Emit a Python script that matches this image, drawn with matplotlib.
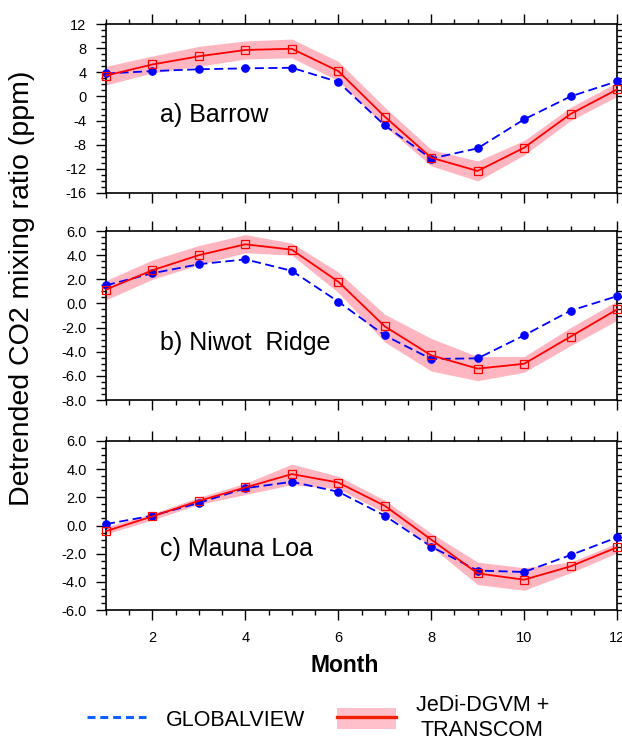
import matplotlib
matplotlib.use("Agg")
import matplotlib.pyplot as plt
from matplotlib.ticker import MultipleLocator, FixedLocator
from matplotlib.lines import Line2D
from matplotlib.patches import Patch
import numpy as np

plt.rcParams['font.family'] = ['Liberation Sans', 'DejaVu Sans']

months = list(range(1, 13))

# a) Barrow
barrow_obs = [3.8, 4.2, 4.5, 4.65, 4.75, 2.4, -4.8, -10.3, -8.6, -3.8, 0.0, 2.5]
barrow_mod = [3.45, 5.3, 6.65, 7.7, 7.9, 4.2, -3.35, -10.15, -12.35, -8.5, -2.9, 1.15]
barrow_up = [5.0, 6.7, 8.3, 9.2, 9.5, 5.8, -1.8, -8.8, -10.7, -7.3, -1.8, 2.3]
barrow_lo = [1.9, 3.9, 5.0, 6.2, 6.4, 2.6, -4.9, -11.5, -14.0, -9.7, -4.0, 0.0]

# b) Niwot Ridge
niwot_obs = [1.5, 2.5, 3.25, 3.65, 2.7, 0.15, -2.65, -4.6, -4.55, -2.65, -0.6, 0.6]
niwot_mod = [1.15, 2.75, 4.0, 4.9, 4.45, 1.8, -1.9, -4.3, -5.4, -5.0, -2.75, -0.5]
niwot_up = [1.9, 3.6, 4.8, 5.7, 5.0, 2.6, -0.9, -2.9, -4.4, -4.4, -2.0, 0.2]
niwot_lo = [0.3, 2.0, 3.2, 4.2, 4.0, 0.9, -3.2, -5.6, -6.4, -5.7, -3.5, -1.4]

# c) Mauna Loa
mlo_obs = [0.1, 0.7, 1.6, 2.65, 3.1, 2.4, 0.7, -1.5, -3.2, -3.3, -2.1, -0.85]
mlo_mod = [-0.4, 0.65, 1.75, 2.7, 3.65, 3.05, 1.4, -1.0, -3.4, -3.85, -2.9, -1.55]
mlo_up = [-0.1, 0.85, 2.0, 3.0, 4.35, 3.5, 1.8, -0.55, -2.6, -3.0, -2.6, -1.25]
mlo_lo = [-0.6, 0.4, 1.5, 2.2, 2.9, 2.6, 0.9, -1.5, -4.2, -4.6, -3.35, -1.95]

titles = ["a) Barrow", "b) Niwot  Ridge", "c) Mauna Loa"]
title_y = [0.46, 0.34, 0.36]
ylims = [(-16, 12), (-8, 6), (-6, 6)]
ymajor = [4, 2, 2]
yminor = [1, 0.5, 0.5]
yfmt = ["{:.0f}", "{:.1f}", "{:.1f}"]
obs_all = [barrow_obs, niwot_obs, mlo_obs]
mod_all = [barrow_mod, niwot_mod, mlo_mod]
up_all = [barrow_up, niwot_up, mlo_up]
lo_all = [barrow_lo, niwot_lo, mlo_lo]
xticks = [2, 4, 6, 8, 10, 12]

W, H = 622, 738
fig = plt.figure(figsize=(W / 100, H / 100), dpi=100)
left = 106 / W
width = 511 / W
tops = [24, 231, 441]
hgt = 169
band_color = '#ffb6c1'
obs_color = '#0000ff'
mod_color = '#ff0000'

for i in range(3):
    ax = fig.add_axes([left, 1 - (tops[i] + hgt) / H, width, hgt / H])
    ax.fill_between(months, lo_all[i], up_all[i], color=band_color, lw=0, zorder=1)
    ax.plot(months, obs_all[i], color=obs_color, ls=(0, (5, 2.5)), lw=1.3,
            marker='o', ms=5.2, mfc=obs_color, mec=obs_color, zorder=3, clip_on=False)
    ax.plot(months, mod_all[i], color=mod_color, ls='-', lw=1.3,
            marker='s', ms=5.5, mfc='none', mec=mod_color, mew=0.9, zorder=4, clip_on=False)
    ax.set_xlim(1, 12)
    ax.set_ylim(*ylims[i])
    ax.xaxis.set_major_locator(FixedLocator(xticks))
    ax.xaxis.set_minor_locator(MultipleLocator(0.5))
    ax.yaxis.set_minor_locator(MultipleLocator(yminor[i]))
    yt = np.arange(ylims[i][0], ylims[i][1] + 1e-9, ymajor[i])
    ax.set_yticks(yt)
    ax.set_yticklabels([yfmt[i].format(v + 0.0) for v in yt])
    ax.tick_params(which='both', direction='out', top=True, right=True,
                   labelsize=10.5, width=1.0)
    ax.tick_params(axis='y', pad=7)
    ax.tick_params(axis='x', pad=8)
    ax.tick_params(which='major', length=7)
    ax.tick_params(which='minor', length=3.5)
    for s in ax.spines.values():
        s.set_linewidth(1.2)
    if i < 2:
        ax.tick_params(labelbottom=False)
    else:
        ax.set_xticklabels([str(v) for v in xticks])
    ax.text(0.105, title_y[i], titles[i],
            transform=ax.transAxes, fontsize=18, ha='left', va='center')

fig.text(345 / W, 1 - 665 / H, "Month", fontsize=16.5, fontweight='bold',
         ha='center', va='center')
fig.text(22 / W, 1 - 288 / H, "Detrended CO2 mixing ratio (ppm)", rotation=90,
         fontsize=20.5, ha='center', va='center')

# legend
h1 = Line2D([], [], color='#1060ff', ls=(0, (2.6, 1.6)), lw=2.2)
h2 = (Patch(facecolor='#ffc0cb', edgecolor='none'),
      Line2D([], [], color='#ee2200', lw=2.4))
leg = fig.legend([h1, h2], ["GLOBALVIEW", "JeDi-DGVM +\nTRANSCOM"],
                 loc='center', bbox_to_anchor=(318 / W, 1 - 718 / H), ncol=2,
                 frameon=False, fontsize=15.5, handlelength=2.75, handleheight=1.1,
                 columnspacing=1.5, handletextpad=0.9, borderpad=0)
leg.get_texts()[1].set_multialignment('center')

fig.savefig("out.png", dpi=100)
